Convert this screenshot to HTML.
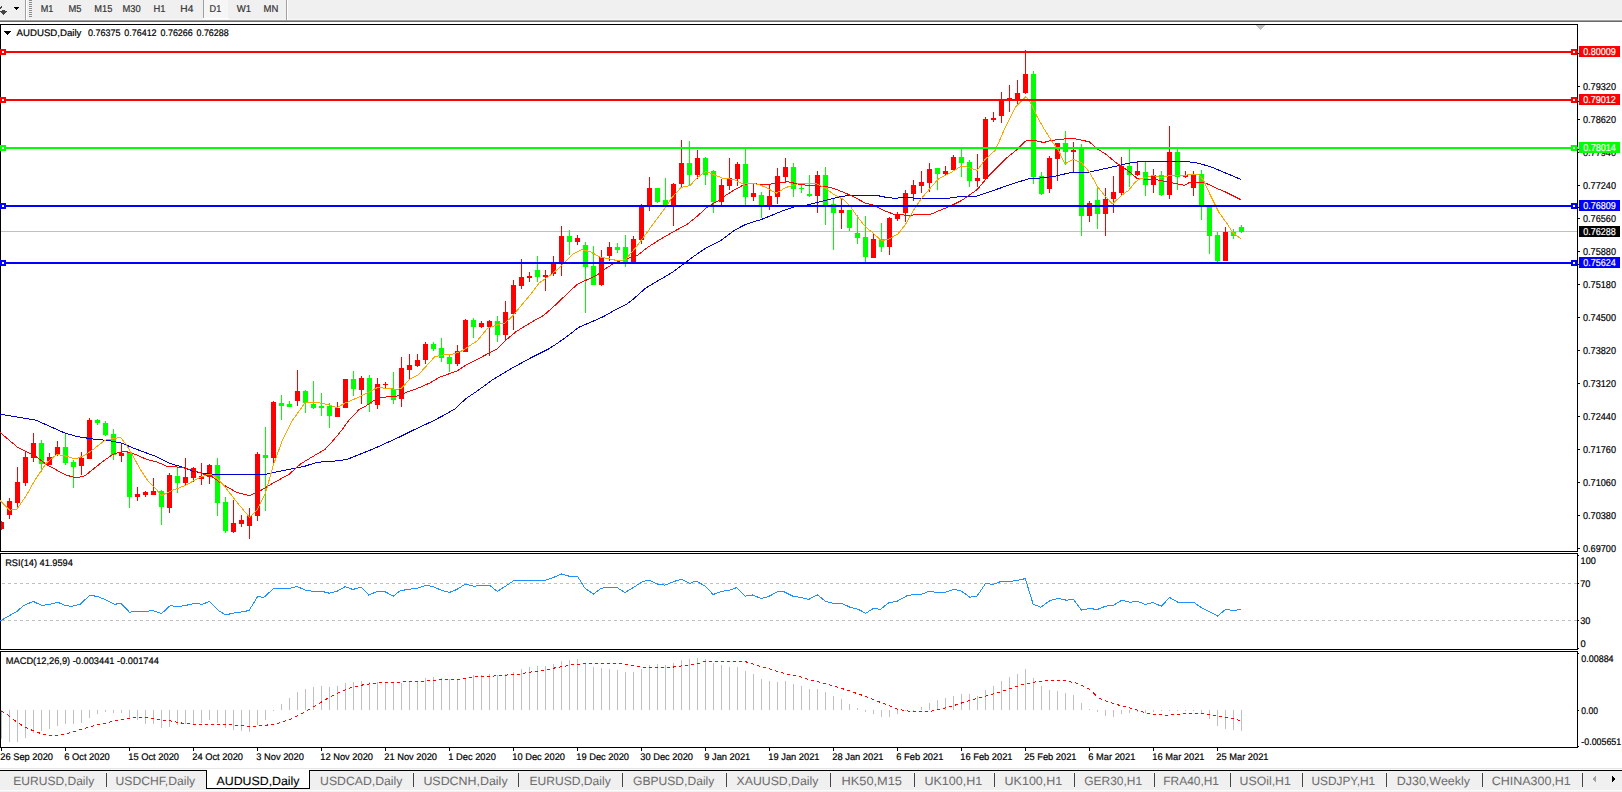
<!DOCTYPE html>
<html><head><meta charset="utf-8"><title>AUDUSD,Daily</title>
<style>
html,body{margin:0;padding:0;background:#fff;overflow:hidden;}
svg{display:block;font-family:"Liberation Sans", sans-serif;text-rendering:geometricPrecision;}
</style></head>
<body>
<svg width="1622" height="792" viewBox="0 0 1622 792">
<rect x="0" y="0" width="1622" height="792" fill="#ffffff"/>
<rect x="0" y="0" width="1622" height="20" fill="#f0f0f0"/>
<rect x="0" y="19" width="1622" height="1" fill="#f7f7f7"/>
<rect x="0" y="20" width="1622" height="1" fill="#a0a0a0"/>
<rect x="0" y="21" width="1622" height="1" fill="#6a6a6a"/>
<rect x="0" y="22" width="1622" height="2" fill="#ffffff"/>
<rect x="1" y="6" width="1" height="1" fill="#454545"/>
<rect x="0" y="7" width="2" height="1" fill="#454545"/>
<rect x="0" y="8" width="1" height="1" fill="#454545"/>
<rect x="2" y="10" width="3" height="1" fill="#454545"/>
<rect x="0" y="11" width="7" height="1" fill="#454545"/>
<rect x="1" y="12" width="5" height="1" fill="#454545"/>
<rect x="2" y="13" width="3" height="1" fill="#454545"/>
<rect x="3" y="14" width="1" height="1" fill="#454545"/>
<rect x="14" y="7" width="5" height="1" fill="#000"/>
<rect x="15" y="8" width="3" height="1" fill="#000"/>
<rect x="16" y="9" width="1" height="1" fill="#000"/>
<rect x="25" y="0" width="1" height="20" fill="#a0a0a0"/>
<rect x="26" y="0" width="1" height="20" fill="#ffffff"/>
<rect x="29" y="0" width="3" height="1" fill="#8c8c8c"/>
<rect x="29" y="2" width="3" height="1" fill="#8c8c8c"/>
<rect x="29" y="4" width="3" height="1" fill="#8c8c8c"/>
<rect x="29" y="6" width="3" height="1" fill="#8c8c8c"/>
<rect x="29" y="8" width="3" height="1" fill="#8c8c8c"/>
<rect x="29" y="10" width="3" height="1" fill="#8c8c8c"/>
<rect x="29" y="12" width="3" height="1" fill="#8c8c8c"/>
<rect x="29" y="14" width="3" height="1" fill="#8c8c8c"/>
<rect x="29" y="16" width="3" height="1" fill="#8c8c8c"/>
<rect x="204" y="0" width="24" height="18" fill="#f6f6f6"/>
<rect x="203" y="0" width="1" height="18" fill="#a0a0a0"/>
<rect x="203" y="18" width="26" height="1" fill="#ffffff"/>
<rect x="286" y="0" width="1" height="20" fill="#a0a0a0"/>
<rect x="287" y="0" width="1" height="20" fill="#ffffff"/>
<text x="40.7" y="12" font-size="10" fill="#333333" stroke="#333333" stroke-width="0.2" textLength="12.6" lengthAdjust="spacingAndGlyphs">M1</text>
<text x="68.4" y="12" font-size="10" fill="#333333" stroke="#333333" stroke-width="0.2" textLength="13" lengthAdjust="spacingAndGlyphs">M5</text>
<text x="94.3" y="12" font-size="10" fill="#333333" stroke="#333333" stroke-width="0.2" textLength="18" lengthAdjust="spacingAndGlyphs">M15</text>
<text x="122.4" y="12" font-size="10" fill="#333333" stroke="#333333" stroke-width="0.2" textLength="18.2" lengthAdjust="spacingAndGlyphs">M30</text>
<text x="153.5" y="12" font-size="10" fill="#333333" stroke="#333333" stroke-width="0.2" textLength="12" lengthAdjust="spacingAndGlyphs">H1</text>
<text x="180.3" y="12" font-size="10" fill="#333333" stroke="#333333" stroke-width="0.2" textLength="13" lengthAdjust="spacingAndGlyphs">H4</text>
<text x="209.6" y="12" font-size="10" fill="#333333" stroke="#333333" stroke-width="0.2" textLength="11.6" lengthAdjust="spacingAndGlyphs">D1</text>
<text x="236.7" y="12" font-size="10" fill="#333333" stroke="#333333" stroke-width="0.2" textLength="14.3" lengthAdjust="spacingAndGlyphs">W1</text>
<text x="263.5" y="12" font-size="10" fill="#333333" stroke="#333333" stroke-width="0.2" textLength="14.8" lengthAdjust="spacingAndGlyphs">MN</text>
<rect x="0" y="24" width="1578" height="1" fill="#000"/>
<rect x="0" y="24" width="1" height="528" fill="#000"/>
<rect x="1577" y="24" width="1" height="528" fill="#000"/>
<rect x="0" y="551" width="1578" height="1" fill="#000"/>
<rect x="0" y="553" width="1578" height="1" fill="#000"/>
<rect x="0" y="553" width="1" height="97" fill="#000"/>
<rect x="1577" y="553" width="1" height="97" fill="#000"/>
<rect x="0" y="649" width="1578" height="1" fill="#000"/>
<rect x="0" y="651" width="1578" height="1" fill="#000"/>
<rect x="0" y="651" width="1" height="97" fill="#000"/>
<rect x="1577" y="651" width="1" height="97" fill="#000"/>
<rect x="0" y="747" width="1578" height="1" fill="#000"/>
<rect x="1256" y="25" width="9" height="1" fill="#c0c0c0"/>
<rect x="1257" y="26" width="7" height="1" fill="#c0c0c0"/>
<rect x="1258" y="27" width="5" height="1" fill="#c0c0c0"/>
<rect x="1259" y="28" width="3" height="1" fill="#c0c0c0"/>
<rect x="1260" y="29" width="1" height="1" fill="#c0c0c0"/>
<text x="4" y="35" font-size="10" fill="#000" stroke="#000" stroke-width="0.2"></text>
<rect x="4" y="31" width="7" height="1" fill="#000"/>
<rect x="5" y="32" width="5" height="1" fill="#000"/>
<rect x="6" y="33" width="3" height="1" fill="#000"/>
<rect x="7" y="34" width="1" height="1" fill="#000"/>
<text x="16.6" y="35.8" font-size="9.5" fill="#000" stroke="#000" stroke-width="0.2" textLength="64.8" lengthAdjust="spacingAndGlyphs">AUDUSD,Daily</text>
<text x="88" y="35.8" font-size="9.5" fill="#000" stroke="#000" stroke-width="0.2" textLength="32.6" lengthAdjust="spacingAndGlyphs">0.76375</text>
<text x="124.3" y="35.8" font-size="9.5" fill="#000" stroke="#000" stroke-width="0.2" textLength="32.3" lengthAdjust="spacingAndGlyphs">0.76412</text>
<text x="160.5" y="35.8" font-size="9.5" fill="#000" stroke="#000" stroke-width="0.2" textLength="32.2" lengthAdjust="spacingAndGlyphs">0.76266</text>
<text x="196.5" y="35.8" font-size="9.5" fill="#000" stroke="#000" stroke-width="0.2" textLength="32.1" lengthAdjust="spacingAndGlyphs">0.76288</text>
<g shape-rendering="crispEdges">
<rect x="1" y="231" width="1576" height="1" fill="#c0c0c0"/>
</g>
<g shape-rendering="crispEdges">
<rect x="1" y="521" width="1" height="9" fill="#ff0000"/>
<rect x="1" y="522" width="3" height="7" fill="#ff0000"/>
<rect x="9" y="498" width="1" height="21" fill="#ff0000"/>
<rect x="7" y="501" width="5" height="14" fill="#ff0000"/>
<rect x="17" y="467" width="1" height="40" fill="#ff0000"/>
<rect x="15" y="482" width="5" height="21" fill="#ff0000"/>
<rect x="25" y="451" width="1" height="35" fill="#ff0000"/>
<rect x="23" y="457" width="5" height="26" fill="#ff0000"/>
<rect x="33" y="433" width="1" height="29" fill="#ff0000"/>
<rect x="31" y="443" width="5" height="15" fill="#ff0000"/>
<rect x="41" y="440" width="1" height="32" fill="#00ff00"/>
<rect x="39" y="443" width="5" height="21" fill="#00ff00"/>
<rect x="49" y="453" width="1" height="12" fill="#ff0000"/>
<rect x="47" y="457" width="5" height="8" fill="#ff0000"/>
<rect x="57" y="441" width="1" height="15" fill="#ff0000"/>
<rect x="55" y="447" width="5" height="8" fill="#ff0000"/>
<rect x="65" y="433" width="1" height="32" fill="#00ff00"/>
<rect x="63" y="447" width="5" height="16" fill="#00ff00"/>
<rect x="73" y="460" width="1" height="28" fill="#00ff00"/>
<rect x="71" y="462" width="5" height="5" fill="#00ff00"/>
<rect x="81" y="452" width="1" height="23" fill="#ff0000"/>
<rect x="79" y="458" width="5" height="8" fill="#ff0000"/>
<rect x="89" y="418" width="1" height="41" fill="#ff0000"/>
<rect x="87" y="420" width="5" height="39" fill="#ff0000"/>
<rect x="97" y="419" width="1" height="6" fill="#00ff00"/>
<rect x="95" y="420" width="5" height="3" fill="#00ff00"/>
<rect x="105" y="421" width="1" height="15" fill="#00ff00"/>
<rect x="103" y="423" width="5" height="12" fill="#00ff00"/>
<rect x="113" y="429" width="1" height="31" fill="#00ff00"/>
<rect x="111" y="434" width="5" height="21" fill="#00ff00"/>
<rect x="121" y="443" width="1" height="19" fill="#ff0000"/>
<rect x="119" y="453" width="5" height="3" fill="#ff0000"/>
<rect x="129" y="452" width="1" height="56" fill="#00ff00"/>
<rect x="127" y="452" width="5" height="45" fill="#00ff00"/>
<rect x="137" y="487" width="1" height="14" fill="#ff0000"/>
<rect x="135" y="494" width="5" height="3" fill="#ff0000"/>
<rect x="145" y="491" width="1" height="6" fill="#ff0000"/>
<rect x="143" y="492" width="5" height="3" fill="#ff0000"/>
<rect x="153" y="478" width="1" height="17" fill="#ff0000"/>
<rect x="151" y="491" width="5" height="4" fill="#ff0000"/>
<rect x="161" y="490" width="1" height="35" fill="#00ff00"/>
<rect x="159" y="491" width="5" height="16" fill="#00ff00"/>
<rect x="169" y="473" width="1" height="40" fill="#ff0000"/>
<rect x="167" y="475" width="5" height="33" fill="#ff0000"/>
<rect x="177" y="467" width="1" height="26" fill="#00ff00"/>
<rect x="175" y="476" width="5" height="7" fill="#00ff00"/>
<rect x="185" y="458" width="1" height="28" fill="#ff0000"/>
<rect x="183" y="477" width="5" height="6" fill="#ff0000"/>
<rect x="193" y="467" width="1" height="15" fill="#ff0000"/>
<rect x="191" y="468" width="5" height="10" fill="#ff0000"/>
<rect x="201" y="463" width="1" height="22" fill="#ff0000"/>
<rect x="199" y="476" width="5" height="3" fill="#ff0000"/>
<rect x="209" y="464" width="1" height="20" fill="#ff0000"/>
<rect x="207" y="465" width="5" height="12" fill="#ff0000"/>
<rect x="217" y="458" width="1" height="58" fill="#00ff00"/>
<rect x="215" y="465" width="5" height="38" fill="#00ff00"/>
<rect x="225" y="497" width="1" height="36" fill="#00ff00"/>
<rect x="223" y="502" width="5" height="29" fill="#00ff00"/>
<rect x="233" y="500" width="1" height="33" fill="#ff0000"/>
<rect x="231" y="523" width="5" height="9" fill="#ff0000"/>
<rect x="241" y="515" width="1" height="12" fill="#ff0000"/>
<rect x="239" y="520" width="5" height="4" fill="#ff0000"/>
<rect x="249" y="508" width="1" height="31" fill="#ff0000"/>
<rect x="247" y="516" width="5" height="10" fill="#ff0000"/>
<rect x="257" y="452" width="1" height="69" fill="#ff0000"/>
<rect x="255" y="454" width="5" height="62" fill="#ff0000"/>
<rect x="265" y="427" width="1" height="84" fill="#00ff00"/>
<rect x="263" y="455" width="5" height="3" fill="#00ff00"/>
<rect x="273" y="401" width="1" height="64" fill="#ff0000"/>
<rect x="271" y="402" width="5" height="56" fill="#ff0000"/>
<rect x="281" y="395" width="1" height="25" fill="#00ff00"/>
<rect x="279" y="403" width="5" height="3" fill="#00ff00"/>
<rect x="289" y="401" width="1" height="6" fill="#00ff00"/>
<rect x="287" y="404" width="5" height="3" fill="#00ff00"/>
<rect x="297" y="370" width="1" height="36" fill="#ff0000"/>
<rect x="295" y="391" width="5" height="10" fill="#ff0000"/>
<rect x="305" y="390" width="1" height="23" fill="#00ff00"/>
<rect x="303" y="391" width="5" height="12" fill="#00ff00"/>
<rect x="313" y="381" width="1" height="28" fill="#00ff00"/>
<rect x="311" y="404" width="5" height="4" fill="#00ff00"/>
<rect x="321" y="393" width="1" height="23" fill="#00ff00"/>
<rect x="319" y="406" width="5" height="2" fill="#00ff00"/>
<rect x="329" y="403" width="1" height="25" fill="#00ff00"/>
<rect x="327" y="406" width="5" height="10" fill="#00ff00"/>
<rect x="337" y="402" width="1" height="15" fill="#ff0000"/>
<rect x="335" y="408" width="5" height="9" fill="#ff0000"/>
<rect x="345" y="379" width="1" height="29" fill="#ff0000"/>
<rect x="343" y="379" width="5" height="29" fill="#ff0000"/>
<rect x="353" y="371" width="1" height="25" fill="#00ff00"/>
<rect x="351" y="379" width="5" height="10" fill="#00ff00"/>
<rect x="361" y="376" width="1" height="28" fill="#ff0000"/>
<rect x="359" y="378" width="5" height="12" fill="#ff0000"/>
<rect x="369" y="375" width="1" height="37" fill="#00ff00"/>
<rect x="367" y="378" width="5" height="26" fill="#00ff00"/>
<rect x="377" y="378" width="1" height="31" fill="#ff0000"/>
<rect x="375" y="384" width="5" height="21" fill="#ff0000"/>
<rect x="385" y="382" width="1" height="6" fill="#ff0000"/>
<rect x="383" y="384" width="5" height="1" fill="#ff0000"/>
<rect x="393" y="372" width="1" height="32" fill="#00ff00"/>
<rect x="391" y="389" width="5" height="11" fill="#00ff00"/>
<rect x="401" y="357" width="1" height="50" fill="#ff0000"/>
<rect x="399" y="368" width="5" height="31" fill="#ff0000"/>
<rect x="409" y="354" width="1" height="25" fill="#ff0000"/>
<rect x="407" y="365" width="5" height="5" fill="#ff0000"/>
<rect x="417" y="354" width="1" height="13" fill="#ff0000"/>
<rect x="415" y="360" width="5" height="6" fill="#ff0000"/>
<rect x="425" y="342" width="1" height="22" fill="#ff0000"/>
<rect x="423" y="344" width="5" height="16" fill="#ff0000"/>
<rect x="433" y="342" width="1" height="9" fill="#00ff00"/>
<rect x="431" y="344" width="5" height="5" fill="#00ff00"/>
<rect x="441" y="338" width="1" height="24" fill="#00ff00"/>
<rect x="439" y="348" width="5" height="10" fill="#00ff00"/>
<rect x="449" y="355" width="1" height="17" fill="#00ff00"/>
<rect x="447" y="357" width="5" height="7" fill="#00ff00"/>
<rect x="457" y="345" width="1" height="21" fill="#ff0000"/>
<rect x="455" y="351" width="5" height="13" fill="#ff0000"/>
<rect x="465" y="319" width="1" height="33" fill="#ff0000"/>
<rect x="463" y="320" width="5" height="32" fill="#ff0000"/>
<rect x="473" y="318" width="1" height="20" fill="#00ff00"/>
<rect x="471" y="320" width="5" height="7" fill="#00ff00"/>
<rect x="481" y="321" width="1" height="7" fill="#ff0000"/>
<rect x="479" y="323" width="5" height="4" fill="#ff0000"/>
<rect x="489" y="320" width="1" height="36" fill="#ff0000"/>
<rect x="487" y="321" width="5" height="6" fill="#ff0000"/>
<rect x="497" y="316" width="1" height="26" fill="#00ff00"/>
<rect x="495" y="321" width="5" height="14" fill="#00ff00"/>
<rect x="505" y="301" width="1" height="40" fill="#ff0000"/>
<rect x="503" y="312" width="5" height="23" fill="#ff0000"/>
<rect x="513" y="280" width="1" height="50" fill="#ff0000"/>
<rect x="511" y="285" width="5" height="29" fill="#ff0000"/>
<rect x="521" y="259" width="1" height="30" fill="#ff0000"/>
<rect x="519" y="277" width="5" height="9" fill="#ff0000"/>
<rect x="529" y="272" width="1" height="10" fill="#ff0000"/>
<rect x="527" y="276" width="5" height="2" fill="#ff0000"/>
<rect x="537" y="256" width="1" height="26" fill="#00ff00"/>
<rect x="535" y="270" width="5" height="7" fill="#00ff00"/>
<rect x="545" y="270" width="1" height="21" fill="#ff0000"/>
<rect x="543" y="275" width="5" height="2" fill="#ff0000"/>
<rect x="553" y="256" width="1" height="20" fill="#ff0000"/>
<rect x="551" y="264" width="5" height="10" fill="#ff0000"/>
<rect x="561" y="226" width="1" height="50" fill="#ff0000"/>
<rect x="559" y="236" width="5" height="27" fill="#ff0000"/>
<rect x="569" y="230" width="1" height="25" fill="#00ff00"/>
<rect x="567" y="236" width="5" height="6" fill="#00ff00"/>
<rect x="577" y="235" width="1" height="10" fill="#ff0000"/>
<rect x="575" y="238" width="5" height="4" fill="#ff0000"/>
<rect x="585" y="242" width="1" height="71" fill="#00ff00"/>
<rect x="583" y="245" width="5" height="22" fill="#00ff00"/>
<rect x="593" y="246" width="1" height="39" fill="#00ff00"/>
<rect x="591" y="266" width="5" height="19" fill="#00ff00"/>
<rect x="601" y="250" width="1" height="36" fill="#ff0000"/>
<rect x="599" y="257" width="5" height="28" fill="#ff0000"/>
<rect x="609" y="242" width="1" height="19" fill="#ff0000"/>
<rect x="607" y="247" width="5" height="9" fill="#ff0000"/>
<rect x="617" y="243" width="1" height="10" fill="#00ff00"/>
<rect x="615" y="247" width="5" height="3" fill="#00ff00"/>
<rect x="625" y="235" width="1" height="32" fill="#00ff00"/>
<rect x="623" y="247" width="5" height="15" fill="#00ff00"/>
<rect x="633" y="236" width="1" height="26" fill="#ff0000"/>
<rect x="631" y="239" width="5" height="23" fill="#ff0000"/>
<rect x="641" y="204" width="1" height="40" fill="#ff0000"/>
<rect x="639" y="206" width="5" height="34" fill="#ff0000"/>
<rect x="649" y="177" width="1" height="34" fill="#ff0000"/>
<rect x="647" y="188" width="5" height="18" fill="#ff0000"/>
<rect x="657" y="188" width="1" height="15" fill="#00ff00"/>
<rect x="655" y="188" width="5" height="14" fill="#00ff00"/>
<rect x="665" y="178" width="1" height="30" fill="#00ff00"/>
<rect x="663" y="200" width="5" height="6" fill="#00ff00"/>
<rect x="673" y="183" width="1" height="43" fill="#ff0000"/>
<rect x="671" y="184" width="5" height="21" fill="#ff0000"/>
<rect x="681" y="140" width="1" height="47" fill="#ff0000"/>
<rect x="679" y="163" width="5" height="21" fill="#ff0000"/>
<rect x="689" y="141" width="1" height="44" fill="#00ff00"/>
<rect x="687" y="163" width="5" height="12" fill="#00ff00"/>
<rect x="697" y="150" width="1" height="29" fill="#ff0000"/>
<rect x="695" y="158" width="5" height="17" fill="#ff0000"/>
<rect x="705" y="157" width="1" height="28" fill="#00ff00"/>
<rect x="703" y="158" width="5" height="17" fill="#00ff00"/>
<rect x="713" y="170" width="1" height="43" fill="#00ff00"/>
<rect x="711" y="171" width="5" height="31" fill="#00ff00"/>
<rect x="721" y="179" width="1" height="26" fill="#ff0000"/>
<rect x="719" y="185" width="5" height="17" fill="#ff0000"/>
<rect x="729" y="158" width="1" height="32" fill="#ff0000"/>
<rect x="727" y="178" width="5" height="8" fill="#ff0000"/>
<rect x="737" y="162" width="1" height="24" fill="#ff0000"/>
<rect x="735" y="164" width="5" height="15" fill="#ff0000"/>
<rect x="745" y="149" width="1" height="56" fill="#00ff00"/>
<rect x="743" y="164" width="5" height="33" fill="#00ff00"/>
<rect x="753" y="183" width="1" height="18" fill="#ff0000"/>
<rect x="751" y="193" width="5" height="4" fill="#ff0000"/>
<rect x="761" y="192" width="1" height="26" fill="#00ff00"/>
<rect x="759" y="195" width="5" height="10" fill="#00ff00"/>
<rect x="769" y="184" width="1" height="26" fill="#ff0000"/>
<rect x="767" y="196" width="5" height="9" fill="#ff0000"/>
<rect x="777" y="168" width="1" height="36" fill="#ff0000"/>
<rect x="775" y="176" width="5" height="21" fill="#ff0000"/>
<rect x="785" y="158" width="1" height="24" fill="#ff0000"/>
<rect x="783" y="167" width="5" height="10" fill="#ff0000"/>
<rect x="793" y="163" width="1" height="34" fill="#00ff00"/>
<rect x="791" y="167" width="5" height="22" fill="#00ff00"/>
<rect x="801" y="184" width="1" height="9" fill="#00ff00"/>
<rect x="799" y="188" width="5" height="1" fill="#00ff00"/>
<rect x="809" y="175" width="1" height="22" fill="#00ff00"/>
<rect x="807" y="194" width="5" height="2" fill="#00ff00"/>
<rect x="817" y="171" width="1" height="42" fill="#ff0000"/>
<rect x="815" y="175" width="5" height="21" fill="#ff0000"/>
<rect x="825" y="167" width="1" height="58" fill="#00ff00"/>
<rect x="823" y="175" width="5" height="30" fill="#00ff00"/>
<rect x="833" y="198" width="1" height="52" fill="#00ff00"/>
<rect x="831" y="204" width="5" height="9" fill="#00ff00"/>
<rect x="841" y="198" width="1" height="31" fill="#ff0000"/>
<rect x="839" y="210" width="5" height="3" fill="#ff0000"/>
<rect x="849" y="210" width="1" height="21" fill="#00ff00"/>
<rect x="847" y="210" width="5" height="18" fill="#00ff00"/>
<rect x="857" y="215" width="1" height="29" fill="#00ff00"/>
<rect x="855" y="233" width="5" height="5" fill="#00ff00"/>
<rect x="865" y="216" width="1" height="46" fill="#00ff00"/>
<rect x="863" y="237" width="5" height="20" fill="#00ff00"/>
<rect x="873" y="234" width="1" height="24" fill="#ff0000"/>
<rect x="871" y="239" width="5" height="19" fill="#ff0000"/>
<rect x="881" y="223" width="1" height="29" fill="#00ff00"/>
<rect x="879" y="239" width="5" height="8" fill="#00ff00"/>
<rect x="889" y="217" width="1" height="38" fill="#ff0000"/>
<rect x="887" y="218" width="5" height="29" fill="#ff0000"/>
<rect x="897" y="212" width="1" height="9" fill="#ff0000"/>
<rect x="895" y="214" width="5" height="5" fill="#ff0000"/>
<rect x="905" y="190" width="1" height="32" fill="#ff0000"/>
<rect x="903" y="193" width="5" height="20" fill="#ff0000"/>
<rect x="913" y="180" width="1" height="21" fill="#ff0000"/>
<rect x="911" y="185" width="5" height="9" fill="#ff0000"/>
<rect x="921" y="171" width="1" height="22" fill="#ff0000"/>
<rect x="919" y="182" width="5" height="4" fill="#ff0000"/>
<rect x="929" y="163" width="1" height="29" fill="#ff0000"/>
<rect x="927" y="169" width="5" height="14" fill="#ff0000"/>
<rect x="937" y="168" width="1" height="22" fill="#00ff00"/>
<rect x="935" y="168" width="5" height="6" fill="#00ff00"/>
<rect x="945" y="166" width="1" height="9" fill="#ff0000"/>
<rect x="943" y="171" width="5" height="3" fill="#ff0000"/>
<rect x="953" y="155" width="1" height="15" fill="#ff0000"/>
<rect x="951" y="157" width="5" height="13" fill="#ff0000"/>
<rect x="961" y="149" width="1" height="28" fill="#00ff00"/>
<rect x="959" y="157" width="5" height="6" fill="#00ff00"/>
<rect x="969" y="160" width="1" height="27" fill="#00ff00"/>
<rect x="967" y="162" width="5" height="19" fill="#00ff00"/>
<rect x="977" y="154" width="1" height="33" fill="#ff0000"/>
<rect x="975" y="178" width="5" height="3" fill="#ff0000"/>
<rect x="985" y="117" width="1" height="62" fill="#ff0000"/>
<rect x="983" y="119" width="5" height="60" fill="#ff0000"/>
<rect x="993" y="112" width="1" height="10" fill="#ff0000"/>
<rect x="991" y="118" width="5" height="2" fill="#ff0000"/>
<rect x="1001" y="92" width="1" height="31" fill="#ff0000"/>
<rect x="999" y="101" width="5" height="15" fill="#ff0000"/>
<rect x="1009" y="85" width="1" height="27" fill="#ff0000"/>
<rect x="1007" y="98" width="5" height="2" fill="#ff0000"/>
<rect x="1017" y="80" width="1" height="25" fill="#ff0000"/>
<rect x="1015" y="93" width="5" height="7" fill="#ff0000"/>
<rect x="1025" y="50" width="1" height="44" fill="#ff0000"/>
<rect x="1023" y="74" width="5" height="19" fill="#ff0000"/>
<rect x="1033" y="71" width="1" height="113" fill="#00ff00"/>
<rect x="1031" y="74" width="5" height="103" fill="#00ff00"/>
<rect x="1041" y="172" width="1" height="23" fill="#00ff00"/>
<rect x="1039" y="176" width="5" height="18" fill="#00ff00"/>
<rect x="1049" y="156" width="1" height="37" fill="#ff0000"/>
<rect x="1047" y="158" width="5" height="31" fill="#ff0000"/>
<rect x="1057" y="143" width="1" height="38" fill="#ff0000"/>
<rect x="1055" y="143" width="5" height="16" fill="#ff0000"/>
<rect x="1065" y="131" width="1" height="34" fill="#00ff00"/>
<rect x="1063" y="143" width="5" height="9" fill="#00ff00"/>
<rect x="1073" y="142" width="1" height="30" fill="#ff0000"/>
<rect x="1071" y="150" width="5" height="2" fill="#ff0000"/>
<rect x="1081" y="144" width="1" height="92" fill="#00ff00"/>
<rect x="1079" y="148" width="5" height="68" fill="#00ff00"/>
<rect x="1089" y="201" width="1" height="21" fill="#ff0000"/>
<rect x="1087" y="203" width="5" height="13" fill="#ff0000"/>
<rect x="1097" y="187" width="1" height="42" fill="#00ff00"/>
<rect x="1095" y="200" width="5" height="14" fill="#00ff00"/>
<rect x="1105" y="188" width="1" height="48" fill="#ff0000"/>
<rect x="1103" y="199" width="5" height="15" fill="#ff0000"/>
<rect x="1113" y="176" width="1" height="37" fill="#ff0000"/>
<rect x="1111" y="192" width="5" height="7" fill="#ff0000"/>
<rect x="1121" y="157" width="1" height="38" fill="#ff0000"/>
<rect x="1119" y="166" width="5" height="27" fill="#ff0000"/>
<rect x="1129" y="149" width="1" height="38" fill="#00ff00"/>
<rect x="1127" y="166" width="5" height="9" fill="#00ff00"/>
<rect x="1137" y="161" width="1" height="15" fill="#ff0000"/>
<rect x="1135" y="171" width="5" height="4" fill="#ff0000"/>
<rect x="1145" y="162" width="1" height="34" fill="#00ff00"/>
<rect x="1143" y="172" width="5" height="13" fill="#00ff00"/>
<rect x="1153" y="169" width="1" height="24" fill="#ff0000"/>
<rect x="1151" y="175" width="5" height="10" fill="#ff0000"/>
<rect x="1161" y="171" width="1" height="25" fill="#00ff00"/>
<rect x="1159" y="175" width="5" height="20" fill="#00ff00"/>
<rect x="1169" y="126" width="1" height="73" fill="#ff0000"/>
<rect x="1167" y="152" width="5" height="43" fill="#ff0000"/>
<rect x="1177" y="149" width="1" height="41" fill="#00ff00"/>
<rect x="1175" y="152" width="5" height="25" fill="#00ff00"/>
<rect x="1185" y="171" width="1" height="7" fill="#ff0000"/>
<rect x="1183" y="175" width="5" height="2" fill="#ff0000"/>
<rect x="1193" y="171" width="1" height="25" fill="#ff0000"/>
<rect x="1191" y="175" width="5" height="13" fill="#ff0000"/>
<rect x="1201" y="170" width="1" height="50" fill="#00ff00"/>
<rect x="1199" y="174" width="5" height="31" fill="#00ff00"/>
<rect x="1209" y="206" width="1" height="48" fill="#00ff00"/>
<rect x="1207" y="206" width="5" height="30" fill="#00ff00"/>
<rect x="1217" y="232" width="1" height="30" fill="#00ff00"/>
<rect x="1215" y="235" width="5" height="26" fill="#00ff00"/>
<rect x="1225" y="227" width="1" height="34" fill="#ff0000"/>
<rect x="1223" y="232" width="5" height="29" fill="#ff0000"/>
<rect x="1233" y="229" width="1" height="10" fill="#00ff00"/>
<rect x="1231" y="232" width="5" height="4" fill="#00ff00"/>
<rect x="1241" y="225" width="1" height="8" fill="#00ff00"/>
<rect x="1239" y="227" width="5" height="5" fill="#00ff00"/>
</g>
<g shape-rendering="crispEdges" stroke-linejoin="round">
<polyline points="0.0,414.2 35.4,420.0 65.4,433.3 77.0,436.5 93.4,439.1 109.9,440.7 121.4,443.0 134.5,448.5 157.0,456.9 169.6,463.4 180.7,466.5 193.3,471.3 204.3,473.6 215.4,474.4 237.0,474.4 264.3,474.5 282.5,470.7 305.2,466.1 317.0,462.3 333.4,461.2 346.6,459.6 358.0,455.0 374.5,448.4 397.0,438.2 413.4,430.1 429.9,422.4 443.0,415.8 454.5,409.2 466.0,398.6 477.0,391.2 492.9,379.5 512.3,368.0 530.0,358.3 547.6,349.5 557.0,343.6 566.9,336.6 578.4,327.5 589.9,322.6 603.0,316.8 614.5,310.3 626.0,304.5 632.6,299.7 645.3,288.4 657.9,280.8 673.0,272.0 683.1,264.4 693.2,256.8 705.9,248.0 721.0,240.4 733.6,230.9 743.7,225.3 752.6,222.1 760.0,220.0 769.6,216.2 779.4,212.1 789.3,208.5 797.0,205.9 806.9,205.0 816.7,202.6 826.6,200.1 836.4,197.6 846.3,195.7 877.0,195.5 886.9,197.5 895.1,198.3 903.3,197.5 918.1,198.3 934.5,198.3 947.6,198.3 957.0,197.0 977.2,196.0 993.4,190.5 1007.5,185.5 1021.6,181.0 1029.7,178.4 1037.0,178.3 1053.4,176.5 1073.1,172.1 1089.6,172.1 1102.7,169.1 1117.0,166.0 1126.9,163.4 1141.6,161.3 1158.1,161.3 1174.5,161.3 1187.6,161.7 1197.0,162.9 1205.2,165.2 1214.2,168.2 1224.8,172.7 1232.4,175.8 1240.8,179.5" fill="none" stroke="#0000cd" stroke-width="1"/>
<polyline points="0.0,432.4 17.7,447.4 35.4,456.3 46.0,464.2 65.4,474.9 77.0,478.0 85.2,475.6 101.6,462.4 113.1,454.2 123.0,451.3 131.2,452.6 146.0,459.1 157.0,462.0 166.5,466.1 180.7,467.3 193.3,470.2 204.3,474.4 212.2,476.8 223.3,484.7 237.0,492.5 249.5,495.7 259.7,491.1 271.0,484.3 289.3,474.1 300.6,463.9 317.0,454.0 325.2,449.2 333.4,440.2 341.6,430.4 349.9,418.9 359.7,409.0 366.3,405.7 376.1,399.1 381.0,397.5 397.0,396.0 405.2,392.8 416.7,388.7 429.9,383.0 439.7,377.2 449.6,373.6 457.8,370.6 466.0,364.9 477.0,359.6 485.8,354.8 496.4,349.5 505.3,340.7 515.9,331.8 530.0,323.0 544.1,315.1 557.0,303.6 566.9,293.9 576.7,284.8 584.9,280.7 596.4,275.5 604.6,269.2 614.5,263.0 626.0,259.0 637.0,255.7 647.6,247.4 660.0,239.5 672.3,232.4 688.2,223.6 698.8,214.8 707.6,206.8 717.0,201.5 725.2,195.7 733.4,190.5 743.3,185.0 749.9,183.4 759.7,184.2 769.6,184.2 779.4,182.9 787.6,181.7 797.0,183.8 806.9,185.3 816.7,185.8 826.6,186.5 836.4,189.4 846.3,193.5 854.5,197.3 866.0,203.4 872.6,204.7 877.0,207.0 885.2,211.0 895.1,214.7 909.9,215.2 918.1,214.7 929.6,214.7 939.4,210.6 949.3,206.5 957.0,202.8 963.1,199.6 977.2,189.5 987.3,177.4 997.4,167.3 1007.5,157.2 1017.6,149.1 1025.7,141.0 1033.8,140.0 1037.0,141.0 1043.6,142.5 1051.8,140.4 1061.6,139.2 1071.5,138.3 1079.7,139.6 1089.6,142.0 1096.1,148.1 1106.0,154.4 1117.0,163.4 1123.6,167.5 1130.1,172.4 1136.7,178.2 1146.6,179.3 1156.4,179.8 1166.3,181.5 1176.1,183.6 1184.4,185.2 1189.3,182.6 1199.1,182.1 1206.7,183.6 1215.8,187.9 1224.8,191.7 1232.4,195.5 1240.8,199.7" fill="none" stroke="#ff0000" stroke-width="1"/>
<polyline points="0.0,500.5 9.7,510.2 16.8,509.4 26.5,495.2 35.4,479.3 46.0,463.4 56.6,454.5 67.2,456.3 74.3,459.0 77.0,458.3 83.6,455.9 93.4,449.3 104.9,440.2 113.1,438.6 120.5,437.5 126.3,444.4 132.9,455.9 141.0,470.6 147.6,480.5 157.0,490.0 161.0,495.7 172.8,490.2 185.4,485.5 198.0,478.4 207.5,474.4 213.8,475.2 223.3,484.7 237.0,502.3 249.5,517.3 257.5,509.3 265.4,493.4 273.4,465.0 282.5,440.0 291.5,421.8 305.2,402.5 317.0,402.5 326.9,404.4 336.7,407.7 344.9,403.2 358.0,397.5 366.3,393.4 377.8,387.3 386.0,388.5 397.0,389.3 401.1,388.7 410.1,378.8 418.4,374.7 426.6,365.7 434.8,356.7 443.0,355.0 452.9,354.2 462.7,350.6 469.3,346.0 477.0,341.0 487.6,328.3 498.2,324.4 505.3,323.0 514.1,314.2 522.9,303.6 531.7,293.0 538.8,283.3 547.6,277.1 557.0,270.0 566.9,260.2 573.4,253.6 581.6,249.8 589.9,251.5 599.7,256.9 609.6,259.0 619.4,261.0 626.0,259.0 637.0,246.0 645.8,234.2 654.7,221.8 665.3,207.7 672.3,197.1 681.2,187.4 690.0,185.6 697.0,177.7 705.9,171.5 717.0,176.0 723.6,178.5 733.4,179.3 743.3,184.2 749.9,183.4 758.1,184.2 766.3,187.5 776.1,193.2 786.0,187.5 797.0,184.0 806.9,183.7 816.7,183.7 824.9,187.8 833.1,194.0 843.0,199.3 851.2,207.5 857.8,217.4 866.0,227.3 872.6,232.7 881.5,240.7 889.0,239.0 897.9,234.0 905.5,224.5 915.6,206.8 921.9,198.0 929.4,189.1 938.3,179.0 948.4,174.0 960.0,167.0 965.1,166.3 977.2,170.3 985.3,159.2 995.4,150.1 1005.5,126.9 1015.6,106.7 1025.7,96.6 1031.7,104.6 1037.0,116.5 1043.6,128.1 1051.8,141.2 1058.4,150.2 1064.9,163.9 1073.1,159.3 1081.4,162.6 1089.6,172.4 1097.8,187.2 1106.0,197.1 1112.6,204.0 1117.0,199.7 1121.9,195.1 1128.5,190.5 1135.1,182.3 1140.0,178.7 1146.6,177.4 1153.1,175.4 1161.4,177.7 1169.6,175.7 1179.4,175.4 1189.3,174.9 1199.1,175.0 1203.6,180.3 1209.7,193.9 1215.8,206.1 1218.8,212.1 1226.4,222.7 1232.4,231.8 1235.5,234.8 1240.8,238.6" fill="none" stroke="#ffa500" stroke-width="1"/>
</g>
<g shape-rendering="crispEdges">
<rect x="1" y="51" width="1576" height="2" fill="#ff0000"/>
<rect x="0" y="49" width="6" height="6" fill="#ff0000"/>
<rect x="2" y="51" width="2" height="2" fill="#ffffff"/>
<rect x="1571" y="49" width="6" height="6" fill="#ff0000"/>
<rect x="1573" y="51" width="2" height="2" fill="#ffffff"/>
<rect x="1" y="99" width="1576" height="2" fill="#ff0000"/>
<rect x="0" y="97" width="6" height="6" fill="#ff0000"/>
<rect x="2" y="99" width="2" height="2" fill="#ffffff"/>
<rect x="1571" y="97" width="6" height="6" fill="#ff0000"/>
<rect x="1573" y="99" width="2" height="2" fill="#ffffff"/>
<rect x="1" y="147" width="1576" height="2" fill="#00ff00"/>
<rect x="0" y="145" width="6" height="6" fill="#00ff00"/>
<rect x="2" y="147" width="2" height="2" fill="#ffffff"/>
<rect x="1571" y="145" width="6" height="6" fill="#00ff00"/>
<rect x="1573" y="147" width="2" height="2" fill="#ffffff"/>
<rect x="1" y="205" width="1576" height="2" fill="#0000ff"/>
<rect x="0" y="203" width="6" height="6" fill="#0000ff"/>
<rect x="2" y="205" width="2" height="2" fill="#ffffff"/>
<rect x="1571" y="203" width="6" height="6" fill="#0000ff"/>
<rect x="1573" y="205" width="2" height="2" fill="#ffffff"/>
<rect x="1" y="262" width="1576" height="2" fill="#0000ff"/>
<rect x="0" y="260" width="6" height="6" fill="#0000ff"/>
<rect x="2" y="262" width="2" height="2" fill="#ffffff"/>
<rect x="1571" y="260" width="6" height="6" fill="#0000ff"/>
<rect x="1573" y="262" width="2" height="2" fill="#ffffff"/>
</g>
<g shape-rendering="crispEdges">
<rect x="1578" y="86" width="2" height="1" fill="#000"/>
<rect x="1578" y="119" width="2" height="1" fill="#000"/>
<rect x="1578" y="152" width="2" height="1" fill="#000"/>
<rect x="1578" y="185" width="2" height="1" fill="#000"/>
<rect x="1578" y="218" width="2" height="1" fill="#000"/>
<rect x="1578" y="251" width="2" height="1" fill="#000"/>
<rect x="1578" y="284" width="2" height="1" fill="#000"/>
<rect x="1578" y="317" width="2" height="1" fill="#000"/>
<rect x="1578" y="350" width="2" height="1" fill="#000"/>
<rect x="1578" y="383" width="2" height="1" fill="#000"/>
<rect x="1578" y="416" width="2" height="1" fill="#000"/>
<rect x="1578" y="449" width="2" height="1" fill="#000"/>
<rect x="1578" y="482" width="2" height="1" fill="#000"/>
<rect x="1578" y="515" width="2" height="1" fill="#000"/>
<rect x="1578" y="548" width="2" height="1" fill="#000"/>
</g>
<text x="1583" y="90" font-size="10" fill="#000" stroke="#000" stroke-width="0.2" textLength="33" lengthAdjust="spacingAndGlyphs">0.79320</text>
<text x="1583" y="123" font-size="10" fill="#000" stroke="#000" stroke-width="0.2" textLength="33" lengthAdjust="spacingAndGlyphs">0.78620</text>
<text x="1583" y="156" font-size="10" fill="#000" stroke="#000" stroke-width="0.2" textLength="33" lengthAdjust="spacingAndGlyphs">0.77940</text>
<text x="1583" y="189" font-size="10" fill="#000" stroke="#000" stroke-width="0.2" textLength="33" lengthAdjust="spacingAndGlyphs">0.77240</text>
<text x="1583" y="222" font-size="10" fill="#000" stroke="#000" stroke-width="0.2" textLength="33" lengthAdjust="spacingAndGlyphs">0.76560</text>
<text x="1583" y="255" font-size="10" fill="#000" stroke="#000" stroke-width="0.2" textLength="33" lengthAdjust="spacingAndGlyphs">0.75880</text>
<text x="1583" y="288" font-size="10" fill="#000" stroke="#000" stroke-width="0.2" textLength="33" lengthAdjust="spacingAndGlyphs">0.75180</text>
<text x="1583" y="321" font-size="10" fill="#000" stroke="#000" stroke-width="0.2" textLength="33" lengthAdjust="spacingAndGlyphs">0.74500</text>
<text x="1583" y="354" font-size="10" fill="#000" stroke="#000" stroke-width="0.2" textLength="33" lengthAdjust="spacingAndGlyphs">0.73820</text>
<text x="1583" y="387" font-size="10" fill="#000" stroke="#000" stroke-width="0.2" textLength="33" lengthAdjust="spacingAndGlyphs">0.73120</text>
<text x="1583" y="420" font-size="10" fill="#000" stroke="#000" stroke-width="0.2" textLength="33" lengthAdjust="spacingAndGlyphs">0.72440</text>
<text x="1583" y="453" font-size="10" fill="#000" stroke="#000" stroke-width="0.2" textLength="33" lengthAdjust="spacingAndGlyphs">0.71760</text>
<text x="1583" y="486" font-size="10" fill="#000" stroke="#000" stroke-width="0.2" textLength="33" lengthAdjust="spacingAndGlyphs">0.71060</text>
<text x="1583" y="519" font-size="10" fill="#000" stroke="#000" stroke-width="0.2" textLength="33" lengthAdjust="spacingAndGlyphs">0.70380</text>
<text x="1583" y="552" font-size="10" fill="#000" stroke="#000" stroke-width="0.2" textLength="33" lengthAdjust="spacingAndGlyphs">0.69700</text>
<rect x="1579" y="46" width="41" height="11" fill="#ff0000" shape-rendering="crispEdges"/>
<text x="1583.3" y="55" font-size="10" fill="#ffffff" stroke="#ffffff" stroke-width="0.2" textLength="32.6" lengthAdjust="spacingAndGlyphs">0.80009</text>
<rect x="1579" y="94" width="41" height="11" fill="#ff0000" shape-rendering="crispEdges"/>
<text x="1583.3" y="103" font-size="10" fill="#ffffff" stroke="#ffffff" stroke-width="0.2" textLength="32.6" lengthAdjust="spacingAndGlyphs">0.79012</text>
<rect x="1579" y="142" width="41" height="11" fill="#00ff00" shape-rendering="crispEdges"/>
<text x="1583.3" y="151" font-size="10" fill="#ffffff" stroke="#ffffff" stroke-width="0.2" textLength="32.6" lengthAdjust="spacingAndGlyphs">0.78014</text>
<rect x="1579" y="200" width="41" height="11" fill="#0000ff" shape-rendering="crispEdges"/>
<text x="1583.3" y="209" font-size="10" fill="#ffffff" stroke="#ffffff" stroke-width="0.2" textLength="32.6" lengthAdjust="spacingAndGlyphs">0.76809</text>
<rect x="1579" y="257" width="41" height="11" fill="#0000ff" shape-rendering="crispEdges"/>
<text x="1583.3" y="266" font-size="10" fill="#ffffff" stroke="#ffffff" stroke-width="0.2" textLength="32.6" lengthAdjust="spacingAndGlyphs">0.75624</text>
<rect x="1579" y="226" width="41" height="11" fill="#000000" shape-rendering="crispEdges"/>
<text x="1583.3" y="235" font-size="10" fill="#ffffff" stroke="#ffffff" stroke-width="0.2" textLength="32.6" lengthAdjust="spacingAndGlyphs">0.76288</text>
<rect x="1578" y="53" width="1" height="1" fill="#000"/>
<rect x="1577" y="51" width="1" height="2" fill="#ff0000"/>
<rect x="1578" y="101" width="1" height="1" fill="#000"/>
<rect x="1577" y="99" width="1" height="2" fill="#ff0000"/>
<rect x="1578" y="149" width="1" height="1" fill="#000"/>
<rect x="1577" y="147" width="1" height="2" fill="#00ff00"/>
<rect x="1578" y="207" width="1" height="1" fill="#000"/>
<rect x="1577" y="205" width="1" height="2" fill="#0000ff"/>
<rect x="1578" y="264" width="1" height="1" fill="#000"/>
<rect x="1577" y="262" width="1" height="2" fill="#0000ff"/>
<g shape-rendering="crispEdges">
<line x1="2" y1="583.5" x2="1577" y2="583.5" stroke="#c0c0c0" stroke-dasharray="3,3"/>
<line x1="2" y1="620.5" x2="1577" y2="620.5" stroke="#c0c0c0" stroke-dasharray="3,3"/>
<rect x="1578" y="555" width="1" height="1" fill="#000"/>
<rect x="1578" y="583" width="1" height="1" fill="#000"/>
<rect x="1578" y="620" width="1" height="1" fill="#000"/>
<rect x="1578" y="648" width="1" height="1" fill="#000"/>
<polyline points="0.0,621.1 9.9,615.4 17.3,611.2 23.4,605.6 33.3,601.4 41.9,605.6 49.3,604.3 58.0,602.3 65.4,605.6 71.5,606.3 80.1,604.3 90.0,595.0 98.6,596.9 106.0,599.9 114.7,604.3 120.8,603.3 129.5,612.2 136.9,611.2 148.0,611.2 152.9,610.5 161.5,613.7 170.2,605.6 177.6,606.8 185.0,605.6 194.8,603.3 202.2,604.3 209.6,601.4 218.2,610.5 225.6,614.9 233.0,613.2 242.9,611.7 249.1,610.5 257.7,596.4 263.9,597.4 273.7,588.3 289.8,588.3 297.2,586.6 305.8,590.3 313.2,591.3 321.8,591.3 329.2,593.2 336.6,591.5 345.3,586.6 352.7,589.5 361.3,587.1 368.7,595.0 377.3,591.5 384.7,591.5 393.3,596.2 400.0,590.8 407.4,589.5 417.3,588.3 425.9,585.3 433.3,586.6 440.7,590.0 449.3,592.5 456.7,589.5 465.4,584.1 474.0,586.3 481.4,585.1 490.0,585.6 497.4,591.5 506.0,585.8 513.4,580.9 518.4,580.2 545.5,580.2 552.9,577.7 561.5,574.0 570.2,576.5 577.6,576.5 585.0,588.3 593.6,594.0 601.0,588.3 608.4,587.1 617.0,587.6 624.9,592.5 633.0,587.8 642.9,581.4 649.1,580.2 657.7,584.1 665.1,585.1 673.7,581.6 681.1,579.2 689.8,583.4 695.9,580.9 704.6,585.8 713.2,594.5 721.8,591.3 729.2,590.3 736.6,587.6 745.2,596.2 752.6,595.0 761.3,598.6 768.7,596.4 777.3,592.0 783.5,591.5 793.3,596.4 800.0,597.3 808.9,599.4 817.2,594.7 825.5,601.3 833.3,603.3 842.2,603.6 850.0,607.2 858.3,609.4 865.8,613.3 873.5,608.3 880.5,609.4 888.8,602.7 897.1,601.3 906.8,595.8 913.8,594.4 922.1,594.1 929.0,591.3 936.0,592.2 945.7,592.2 954.0,589.4 960.9,590.8 969.8,597.2 977.0,596.1 985.3,583.9 993.7,584.1 1001.2,581.4 1010.9,581.4 1019.2,580.0 1025.3,578.6 1033.1,604.1 1040.8,607.2 1049.7,600.8 1058.0,598.3 1066.4,600.2 1073.3,599.4 1081.6,610.2 1090.0,608.3 1096.9,609.7 1105.2,606.3 1113.5,605.2 1121.9,600.2 1130.2,602.2 1137.1,601.3 1145.4,604.4 1152.9,602.4 1161.3,606.3 1169.6,597.5 1177.9,602.2 1186.2,602.2 1194.0,602.4 1202.3,608.3 1210.1,611.9 1217.6,616.0 1225.9,609.1 1232.8,610.5 1241.2,609.4" fill="none" stroke="#1e90ff" stroke-width="1"/>
</g>
<text x="5.2" y="565.6" font-size="9.5" fill="#000" stroke="#000" stroke-width="0.2" textLength="67.7" lengthAdjust="spacingAndGlyphs">RSI(14) 41.9594</text>
<text x="1580.6" y="564" font-size="9.6" fill="#000" stroke="#000" stroke-width="0.2" textLength="15.2" lengthAdjust="spacingAndGlyphs">100</text>
<text x="1580.2" y="587" font-size="9.6" fill="#000" stroke="#000" stroke-width="0.2" textLength="10.2" lengthAdjust="spacingAndGlyphs">70</text>
<text x="1580.2" y="624" font-size="9.6" fill="#000" stroke="#000" stroke-width="0.2" textLength="10.2" lengthAdjust="spacingAndGlyphs">30</text>
<text x="1580.6" y="646.5" font-size="9.6" fill="#000" stroke="#000" stroke-width="0.2" textLength="5.2" lengthAdjust="spacingAndGlyphs">0</text>
<g shape-rendering="crispEdges">
<rect x="1" y="710" width="1" height="29" fill="#c0c0c0"/>
<rect x="9" y="710" width="1" height="32" fill="#c0c0c0"/>
<rect x="17" y="710" width="1" height="32" fill="#c0c0c0"/>
<rect x="25" y="710" width="1" height="28" fill="#c0c0c0"/>
<rect x="33" y="710" width="1" height="23" fill="#c0c0c0"/>
<rect x="41" y="710" width="1" height="21" fill="#c0c0c0"/>
<rect x="49" y="710" width="1" height="19" fill="#c0c0c0"/>
<rect x="57" y="710" width="1" height="16" fill="#c0c0c0"/>
<rect x="65" y="710" width="1" height="14" fill="#c0c0c0"/>
<rect x="73" y="710" width="1" height="14" fill="#c0c0c0"/>
<rect x="81" y="710" width="1" height="13" fill="#c0c0c0"/>
<rect x="89" y="710" width="1" height="8" fill="#c0c0c0"/>
<rect x="97" y="710" width="1" height="4" fill="#c0c0c0"/>
<rect x="105" y="710" width="1" height="2" fill="#c0c0c0"/>
<rect x="113" y="710" width="1" height="3" fill="#c0c0c0"/>
<rect x="121" y="710" width="1" height="3" fill="#c0c0c0"/>
<rect x="129" y="710" width="1" height="8" fill="#c0c0c0"/>
<rect x="137" y="710" width="1" height="10" fill="#c0c0c0"/>
<rect x="145" y="710" width="1" height="14" fill="#c0c0c0"/>
<rect x="153" y="710" width="1" height="14" fill="#c0c0c0"/>
<rect x="161" y="710" width="1" height="18" fill="#c0c0c0"/>
<rect x="169" y="710" width="1" height="17" fill="#c0c0c0"/>
<rect x="177" y="710" width="1" height="15" fill="#c0c0c0"/>
<rect x="185" y="710" width="1" height="14" fill="#c0c0c0"/>
<rect x="193" y="710" width="1" height="14" fill="#c0c0c0"/>
<rect x="201" y="710" width="1" height="13" fill="#c0c0c0"/>
<rect x="209" y="710" width="1" height="10" fill="#c0c0c0"/>
<rect x="217" y="710" width="1" height="13" fill="#c0c0c0"/>
<rect x="225" y="710" width="1" height="18" fill="#c0c0c0"/>
<rect x="233" y="710" width="1" height="20" fill="#c0c0c0"/>
<rect x="241" y="710" width="1" height="21" fill="#c0c0c0"/>
<rect x="249" y="710" width="1" height="22" fill="#c0c0c0"/>
<rect x="257" y="710" width="1" height="15" fill="#c0c0c0"/>
<rect x="265" y="710" width="1" height="10" fill="#c0c0c0"/>
<rect x="273" y="710" width="1" height="1" fill="#c0c0c0"/>
<rect x="281" y="704" width="1" height="6" fill="#c0c0c0"/>
<rect x="289" y="698" width="1" height="12" fill="#c0c0c0"/>
<rect x="297" y="692" width="1" height="18" fill="#c0c0c0"/>
<rect x="305" y="689" width="1" height="21" fill="#c0c0c0"/>
<rect x="313" y="687" width="1" height="23" fill="#c0c0c0"/>
<rect x="321" y="686" width="1" height="24" fill="#c0c0c0"/>
<rect x="329" y="687" width="1" height="23" fill="#c0c0c0"/>
<rect x="337" y="686" width="1" height="24" fill="#c0c0c0"/>
<rect x="345" y="683" width="1" height="27" fill="#c0c0c0"/>
<rect x="353" y="682" width="1" height="28" fill="#c0c0c0"/>
<rect x="361" y="681" width="1" height="29" fill="#c0c0c0"/>
<rect x="369" y="682" width="1" height="28" fill="#c0c0c0"/>
<rect x="377" y="682" width="1" height="28" fill="#c0c0c0"/>
<rect x="385" y="682" width="1" height="28" fill="#c0c0c0"/>
<rect x="393" y="682" width="1" height="28" fill="#c0c0c0"/>
<rect x="401" y="683" width="1" height="27" fill="#c0c0c0"/>
<rect x="409" y="682" width="1" height="28" fill="#c0c0c0"/>
<rect x="417" y="681" width="1" height="29" fill="#c0c0c0"/>
<rect x="425" y="678" width="1" height="32" fill="#c0c0c0"/>
<rect x="433" y="677" width="1" height="33" fill="#c0c0c0"/>
<rect x="441" y="678" width="1" height="32" fill="#c0c0c0"/>
<rect x="449" y="679" width="1" height="31" fill="#c0c0c0"/>
<rect x="457" y="680" width="1" height="30" fill="#c0c0c0"/>
<rect x="465" y="678" width="1" height="32" fill="#c0c0c0"/>
<rect x="473" y="675" width="1" height="35" fill="#c0c0c0"/>
<rect x="481" y="675" width="1" height="35" fill="#c0c0c0"/>
<rect x="489" y="674" width="1" height="36" fill="#c0c0c0"/>
<rect x="497" y="675" width="1" height="35" fill="#c0c0c0"/>
<rect x="505" y="674" width="1" height="36" fill="#c0c0c0"/>
<rect x="513" y="672" width="1" height="38" fill="#c0c0c0"/>
<rect x="521" y="669" width="1" height="41" fill="#c0c0c0"/>
<rect x="529" y="667" width="1" height="43" fill="#c0c0c0"/>
<rect x="537" y="666" width="1" height="44" fill="#c0c0c0"/>
<rect x="545" y="666" width="1" height="44" fill="#c0c0c0"/>
<rect x="553" y="664" width="1" height="46" fill="#c0c0c0"/>
<rect x="561" y="661" width="1" height="49" fill="#c0c0c0"/>
<rect x="569" y="660" width="1" height="50" fill="#c0c0c0"/>
<rect x="577" y="659" width="1" height="51" fill="#c0c0c0"/>
<rect x="585" y="664" width="1" height="46" fill="#c0c0c0"/>
<rect x="593" y="667" width="1" height="43" fill="#c0c0c0"/>
<rect x="601" y="668" width="1" height="42" fill="#c0c0c0"/>
<rect x="609" y="669" width="1" height="41" fill="#c0c0c0"/>
<rect x="617" y="670" width="1" height="40" fill="#c0c0c0"/>
<rect x="625" y="672" width="1" height="38" fill="#c0c0c0"/>
<rect x="633" y="672" width="1" height="38" fill="#c0c0c0"/>
<rect x="641" y="669" width="1" height="41" fill="#c0c0c0"/>
<rect x="649" y="665" width="1" height="45" fill="#c0c0c0"/>
<rect x="657" y="664" width="1" height="46" fill="#c0c0c0"/>
<rect x="665" y="665" width="1" height="45" fill="#c0c0c0"/>
<rect x="673" y="663" width="1" height="47" fill="#c0c0c0"/>
<rect x="681" y="660" width="1" height="50" fill="#c0c0c0"/>
<rect x="689" y="659" width="1" height="51" fill="#c0c0c0"/>
<rect x="697" y="658" width="1" height="52" fill="#c0c0c0"/>
<rect x="705" y="659" width="1" height="51" fill="#c0c0c0"/>
<rect x="713" y="663" width="1" height="47" fill="#c0c0c0"/>
<rect x="721" y="665" width="1" height="45" fill="#c0c0c0"/>
<rect x="729" y="667" width="1" height="43" fill="#c0c0c0"/>
<rect x="737" y="667" width="1" height="43" fill="#c0c0c0"/>
<rect x="745" y="671" width="1" height="39" fill="#c0c0c0"/>
<rect x="753" y="674" width="1" height="36" fill="#c0c0c0"/>
<rect x="761" y="679" width="1" height="31" fill="#c0c0c0"/>
<rect x="769" y="681" width="1" height="29" fill="#c0c0c0"/>
<rect x="777" y="682" width="1" height="28" fill="#c0c0c0"/>
<rect x="785" y="681" width="1" height="29" fill="#c0c0c0"/>
<rect x="793" y="684" width="1" height="26" fill="#c0c0c0"/>
<rect x="801" y="686" width="1" height="24" fill="#c0c0c0"/>
<rect x="809" y="689" width="1" height="21" fill="#c0c0c0"/>
<rect x="817" y="689" width="1" height="21" fill="#c0c0c0"/>
<rect x="825" y="692" width="1" height="18" fill="#c0c0c0"/>
<rect x="833" y="696" width="1" height="14" fill="#c0c0c0"/>
<rect x="841" y="699" width="1" height="11" fill="#c0c0c0"/>
<rect x="849" y="704" width="1" height="6" fill="#c0c0c0"/>
<rect x="857" y="708" width="1" height="2" fill="#c0c0c0"/>
<rect x="865" y="710" width="1" height="2" fill="#c0c0c0"/>
<rect x="873" y="710" width="1" height="4" fill="#c0c0c0"/>
<rect x="881" y="710" width="1" height="7" fill="#c0c0c0"/>
<rect x="889" y="710" width="1" height="7" fill="#c0c0c0"/>
<rect x="897" y="710" width="1" height="4" fill="#c0c0c0"/>
<rect x="905" y="710" width="1" height="1" fill="#c0c0c0"/>
<rect x="913" y="710" width="1" height="1" fill="#c0c0c0"/>
<rect x="921" y="707" width="1" height="3" fill="#c0c0c0"/>
<rect x="929" y="703" width="1" height="7" fill="#c0c0c0"/>
<rect x="937" y="700" width="1" height="10" fill="#c0c0c0"/>
<rect x="945" y="698" width="1" height="12" fill="#c0c0c0"/>
<rect x="953" y="696" width="1" height="14" fill="#c0c0c0"/>
<rect x="961" y="694" width="1" height="16" fill="#c0c0c0"/>
<rect x="969" y="694" width="1" height="16" fill="#c0c0c0"/>
<rect x="977" y="696" width="1" height="14" fill="#c0c0c0"/>
<rect x="985" y="690" width="1" height="20" fill="#c0c0c0"/>
<rect x="993" y="686" width="1" height="24" fill="#c0c0c0"/>
<rect x="1001" y="681" width="1" height="29" fill="#c0c0c0"/>
<rect x="1009" y="677" width="1" height="33" fill="#c0c0c0"/>
<rect x="1017" y="674" width="1" height="36" fill="#c0c0c0"/>
<rect x="1025" y="669" width="1" height="41" fill="#c0c0c0"/>
<rect x="1033" y="678" width="1" height="32" fill="#c0c0c0"/>
<rect x="1041" y="686" width="1" height="24" fill="#c0c0c0"/>
<rect x="1049" y="690" width="1" height="20" fill="#c0c0c0"/>
<rect x="1057" y="691" width="1" height="19" fill="#c0c0c0"/>
<rect x="1065" y="693" width="1" height="17" fill="#c0c0c0"/>
<rect x="1073" y="695" width="1" height="15" fill="#c0c0c0"/>
<rect x="1081" y="703" width="1" height="7" fill="#c0c0c0"/>
<rect x="1089" y="709" width="1" height="1" fill="#c0c0c0"/>
<rect x="1097" y="710" width="1" height="2" fill="#c0c0c0"/>
<rect x="1105" y="710" width="1" height="6" fill="#c0c0c0"/>
<rect x="1113" y="710" width="1" height="7" fill="#c0c0c0"/>
<rect x="1121" y="710" width="1" height="4" fill="#c0c0c0"/>
<rect x="1129" y="710" width="1" height="3" fill="#c0c0c0"/>
<rect x="1137" y="710" width="1" height="2" fill="#c0c0c0"/>
<rect x="1145" y="710" width="1" height="3" fill="#c0c0c0"/>
<rect x="1153" y="710" width="1" height="2" fill="#c0c0c0"/>
<rect x="1161" y="710" width="1" height="1" fill="#c0c0c0"/>
<rect x="1169" y="710" width="1" height="1" fill="#c0c0c0"/>
<rect x="1177" y="710" width="1" height="1" fill="#c0c0c0"/>
<rect x="1185" y="710" width="1" height="1" fill="#c0c0c0"/>
<rect x="1193" y="710" width="1" height="1" fill="#c0c0c0"/>
<rect x="1201" y="710" width="1" height="3" fill="#c0c0c0"/>
<rect x="1209" y="710" width="1" height="9" fill="#c0c0c0"/>
<rect x="1217" y="710" width="1" height="16" fill="#c0c0c0"/>
<rect x="1225" y="710" width="1" height="19" fill="#c0c0c0"/>
<rect x="1233" y="710" width="1" height="20" fill="#c0c0c0"/>
<rect x="1241" y="710" width="1" height="21" fill="#c0c0c0"/>
</g>
<g shape-rendering="crispEdges">
<defs><pattern id="dotp" x="0" y="0" width="6" height="800" patternUnits="userSpaceOnUse"><rect x="1" y="0" width="3" height="800" fill="#fff"/></pattern><mask id="dotm" maskUnits="userSpaceOnUse" x="0" y="640" width="1622" height="120"><rect x="0" y="640" width="1622" height="120" fill="url(#dotp)"/></mask></defs>
<polyline points="0.0,710.4 7.4,714.6 16.0,721.5 24.7,726.9 34.5,731.4 44.4,734.6 54.3,735.6 66.6,733.8 78.9,730.1 91.2,726.4 103.6,723.5 115.9,720.8 128.2,718.3 138.1,717.3 148.0,717.8 157.8,719.5 170.2,720.8 182.5,723.2 197.3,724.7 212.1,724.5 226.9,724.5 239.2,725.7 254.0,726.4 266.3,725.2 278.7,723.2 291.0,719.0 303.3,712.9 315.7,705.5 328.0,698.1 340.3,691.9 352.7,687.0 365.0,684.5 377.3,682.8 389.6,682.6 400.0,682.1 403.7,681.6 424.7,681.3 432.0,680.3 449.3,679.6 461.7,679.1 471.5,677.1 486.3,676.6 501.1,675.4 518.4,674.2 533.2,671.7 548.0,669.7 555.4,667.8 572.6,664.8 587.4,663.6 621.9,663.6 636.7,666.5 646.6,667.3 671.3,667.3 686.1,665.3 698.4,663.6 703.3,661.6 745.2,661.6 755.1,664.8 769.9,669.0 777.3,671.5 789.6,674.7 800.0,676.8 811.1,680.5 822.2,682.7 836.1,686.6 849.9,691.1 863.8,695.8 877.7,701.3 888.8,705.5 897.1,709.1 911.0,711.6 927.6,711.9 938.7,709.7 952.6,706.0 966.5,701.3 980.4,697.7 994.2,693.8 1008.1,689.4 1022.0,684.7 1035.8,681.9 1049.7,680.0 1063.6,680.5 1077.5,683.3 1088.6,688.8 1099.7,698.6 1110.8,702.7 1121.9,706.0 1133.0,708.8 1144.1,712.4 1155.2,714.6 1169.0,715.2 1182.9,713.8 1196.8,713.3 1207.9,714.4 1219.0,716.6 1232.9,718.8 1241.2,720.8" fill="none" stroke="#ff0000" stroke-width="1" mask="url(#dotm)"/>
<rect x="1578" y="653" width="1" height="1" fill="#000"/>
<rect x="1578" y="710" width="1" height="1" fill="#000"/>
<rect x="1578" y="746" width="1" height="1" fill="#000"/>
</g>
<text x="5.8" y="663.6" font-size="9.5" fill="#000" stroke="#000" stroke-width="0.2" textLength="153" lengthAdjust="spacingAndGlyphs">MACD(12,26,9) -0.003441 -0.001744</text>
<text x="1581.3" y="662" font-size="9.6" fill="#000" stroke="#000" stroke-width="0.2" textLength="32.3" lengthAdjust="spacingAndGlyphs">0.00884</text>
<text x="1581.3" y="714" font-size="9.6" fill="#000" stroke="#000" stroke-width="0.2" textLength="16.7" lengthAdjust="spacingAndGlyphs">0.00</text>
<text x="1581.3" y="744.6" font-size="9.6" fill="#000" stroke="#000" stroke-width="0.2" textLength="39.9" lengthAdjust="spacingAndGlyphs">-0.005651</text>
<g shape-rendering="crispEdges">
<rect x="1" y="748" width="1" height="3" fill="#000"/>
<rect x="65" y="748" width="1" height="3" fill="#000"/>
<rect x="129" y="748" width="1" height="3" fill="#000"/>
<rect x="193" y="748" width="1" height="3" fill="#000"/>
<rect x="257" y="748" width="1" height="3" fill="#000"/>
<rect x="321" y="748" width="1" height="3" fill="#000"/>
<rect x="385" y="748" width="1" height="3" fill="#000"/>
<rect x="449" y="748" width="1" height="3" fill="#000"/>
<rect x="513" y="748" width="1" height="3" fill="#000"/>
<rect x="577" y="748" width="1" height="3" fill="#000"/>
<rect x="641" y="748" width="1" height="3" fill="#000"/>
<rect x="705" y="748" width="1" height="3" fill="#000"/>
<rect x="769" y="748" width="1" height="3" fill="#000"/>
<rect x="833" y="748" width="1" height="3" fill="#000"/>
<rect x="897" y="748" width="1" height="3" fill="#000"/>
<rect x="961" y="748" width="1" height="3" fill="#000"/>
<rect x="1025" y="748" width="1" height="3" fill="#000"/>
<rect x="1089" y="748" width="1" height="3" fill="#000"/>
<rect x="1153" y="748" width="1" height="3" fill="#000"/>
<rect x="1217" y="748" width="1" height="3" fill="#000"/>
</g>
<text x="0.30000000000000004" y="760" font-size="9.6" fill="#000" stroke="#000" stroke-width="0.2" textLength="52.7" lengthAdjust="spacingAndGlyphs">26 Sep 2020</text>
<text x="64.3" y="760" font-size="9.6" fill="#000" stroke="#000" stroke-width="0.2" textLength="45.5" lengthAdjust="spacingAndGlyphs">6 Oct 2020</text>
<text x="128.3" y="760" font-size="9.6" fill="#000" stroke="#000" stroke-width="0.2" textLength="50.7" lengthAdjust="spacingAndGlyphs">15 Oct 2020</text>
<text x="192.3" y="760" font-size="9.6" fill="#000" stroke="#000" stroke-width="0.2" textLength="50.7" lengthAdjust="spacingAndGlyphs">24 Oct 2020</text>
<text x="256.3" y="760" font-size="9.6" fill="#000" stroke="#000" stroke-width="0.2" textLength="47.6" lengthAdjust="spacingAndGlyphs">3 Nov 2020</text>
<text x="320.3" y="760" font-size="9.6" fill="#000" stroke="#000" stroke-width="0.2" textLength="52.7" lengthAdjust="spacingAndGlyphs">12 Nov 2020</text>
<text x="384.3" y="760" font-size="9.6" fill="#000" stroke="#000" stroke-width="0.2" textLength="52.7" lengthAdjust="spacingAndGlyphs">21 Nov 2020</text>
<text x="448.3" y="760" font-size="9.6" fill="#000" stroke="#000" stroke-width="0.2" textLength="47.6" lengthAdjust="spacingAndGlyphs">1 Dec 2020</text>
<text x="512.3" y="760" font-size="9.6" fill="#000" stroke="#000" stroke-width="0.2" textLength="52.7" lengthAdjust="spacingAndGlyphs">10 Dec 2020</text>
<text x="576.3" y="760" font-size="9.6" fill="#000" stroke="#000" stroke-width="0.2" textLength="52.7" lengthAdjust="spacingAndGlyphs">19 Dec 2020</text>
<text x="640.3" y="760" font-size="9.6" fill="#000" stroke="#000" stroke-width="0.2" textLength="52.7" lengthAdjust="spacingAndGlyphs">30 Dec 2020</text>
<text x="704.3" y="760" font-size="9.6" fill="#000" stroke="#000" stroke-width="0.2" textLength="46.0" lengthAdjust="spacingAndGlyphs">9 Jan 2021</text>
<text x="768.3" y="760" font-size="9.6" fill="#000" stroke="#000" stroke-width="0.2" textLength="51.2" lengthAdjust="spacingAndGlyphs">19 Jan 2021</text>
<text x="832.3" y="760" font-size="9.6" fill="#000" stroke="#000" stroke-width="0.2" textLength="51.2" lengthAdjust="spacingAndGlyphs">28 Jan 2021</text>
<text x="896.3" y="760" font-size="9.6" fill="#000" stroke="#000" stroke-width="0.2" textLength="47.1" lengthAdjust="spacingAndGlyphs">6 Feb 2021</text>
<text x="960.3" y="760" font-size="9.6" fill="#000" stroke="#000" stroke-width="0.2" textLength="52.2" lengthAdjust="spacingAndGlyphs">16 Feb 2021</text>
<text x="1024.3" y="760" font-size="9.6" fill="#000" stroke="#000" stroke-width="0.2" textLength="52.2" lengthAdjust="spacingAndGlyphs">25 Feb 2021</text>
<text x="1088.3" y="760" font-size="9.6" fill="#000" stroke="#000" stroke-width="0.2" textLength="47.0" lengthAdjust="spacingAndGlyphs">6 Mar 2021</text>
<text x="1152.3" y="760" font-size="9.6" fill="#000" stroke="#000" stroke-width="0.2" textLength="52.2" lengthAdjust="spacingAndGlyphs">16 Mar 2021</text>
<text x="1216.3" y="760" font-size="9.6" fill="#000" stroke="#000" stroke-width="0.2" textLength="52.2" lengthAdjust="spacingAndGlyphs">25 Mar 2021</text>
<rect x="0" y="768" width="1622" height="1" fill="#e6e6e6"/>
<rect x="0" y="769" width="1622" height="1" fill="#fafafa"/>
<rect x="0" y="770" width="1622" height="1" fill="#000"/>
<rect x="0" y="771" width="1622" height="19" fill="#f0f0f0"/>
<rect x="0" y="790" width="1622" height="1" fill="#fcfcfc"/>
<rect x="0" y="791" width="1622" height="1" fill="#f0f0f0"/>
<rect x="206" y="770" width="104" height="19" fill="#000"/>
<rect x="207" y="769" width="102" height="19" fill="#ffffff"/>
<text x="13.3" y="785" font-size="12" fill="#6d6d6d" stroke="#6d6d6d" stroke-width="0.05" textLength="80.9" lengthAdjust="spacingAndGlyphs">EURUSD,Daily</text>
<text x="115.6" y="785" font-size="12" fill="#6d6d6d" stroke="#6d6d6d" stroke-width="0.05" textLength="79.6" lengthAdjust="spacingAndGlyphs">USDCHF,Daily</text>
<text x="216.6" y="785" font-size="12" fill="#000000" stroke="#000000" stroke-width="0.15" textLength="82.9" lengthAdjust="spacingAndGlyphs">AUDUSD,Daily</text>
<text x="320.1" y="785" font-size="12" fill="#6d6d6d" stroke="#6d6d6d" stroke-width="0.05" textLength="82.3" lengthAdjust="spacingAndGlyphs">USDCAD,Daily</text>
<text x="423.4" y="785" font-size="12" fill="#6d6d6d" stroke="#6d6d6d" stroke-width="0.05" textLength="84.2" lengthAdjust="spacingAndGlyphs">USDCNH,Daily</text>
<text x="529.5" y="785" font-size="12" fill="#6d6d6d" stroke="#6d6d6d" stroke-width="0.05" textLength="81.2" lengthAdjust="spacingAndGlyphs">EURUSD,Daily</text>
<text x="633.1" y="785" font-size="12" fill="#6d6d6d" stroke="#6d6d6d" stroke-width="0.05" textLength="81.2" lengthAdjust="spacingAndGlyphs">GBPUSD,Daily</text>
<text x="736.6" y="785" font-size="12" fill="#6d6d6d" stroke="#6d6d6d" stroke-width="0.05" textLength="81.7" lengthAdjust="spacingAndGlyphs">XAUUSD,Daily</text>
<text x="841.5" y="785" font-size="12" fill="#6d6d6d" stroke="#6d6d6d" stroke-width="0.05" textLength="60.5" lengthAdjust="spacingAndGlyphs">HK50,M15</text>
<text x="924.4" y="785" font-size="12" fill="#6d6d6d" stroke="#6d6d6d" stroke-width="0.05" textLength="57.8" lengthAdjust="spacingAndGlyphs">UK100,H1</text>
<text x="1004.6" y="785" font-size="12" fill="#6d6d6d" stroke="#6d6d6d" stroke-width="0.05" textLength="57.6" lengthAdjust="spacingAndGlyphs">UK100,H1</text>
<text x="1084.3" y="785" font-size="12" fill="#6d6d6d" stroke="#6d6d6d" stroke-width="0.05" textLength="57.8" lengthAdjust="spacingAndGlyphs">GER30,H1</text>
<text x="1163.3" y="785" font-size="12" fill="#6d6d6d" stroke="#6d6d6d" stroke-width="0.05" textLength="55.7" lengthAdjust="spacingAndGlyphs">FRA40,H1</text>
<text x="1239.6" y="785" font-size="12" fill="#6d6d6d" stroke="#6d6d6d" stroke-width="0.05" textLength="51.2" lengthAdjust="spacingAndGlyphs">USOil,H1</text>
<text x="1311.4" y="785" font-size="12" fill="#6d6d6d" stroke="#6d6d6d" stroke-width="0.05" textLength="63.8" lengthAdjust="spacingAndGlyphs">USDJPY,H1</text>
<text x="1396.7" y="785" font-size="12" fill="#6d6d6d" stroke="#6d6d6d" stroke-width="0.05" textLength="73.4" lengthAdjust="spacingAndGlyphs">DJ30,Weekly</text>
<text x="1491.8" y="785" font-size="12" fill="#6d6d6d" stroke="#6d6d6d" stroke-width="0.05" textLength="79.0" lengthAdjust="spacingAndGlyphs">CHINA300,H1</text>
<rect x="106" y="773" width="1" height="14" fill="#444444"/>
<rect x="413" y="773" width="1" height="14" fill="#444444"/>
<rect x="518" y="773" width="1" height="14" fill="#444444"/>
<rect x="622" y="773" width="1" height="14" fill="#444444"/>
<rect x="726" y="773" width="1" height="14" fill="#444444"/>
<rect x="830" y="773" width="1" height="14" fill="#444444"/>
<rect x="914" y="773" width="1" height="14" fill="#444444"/>
<rect x="994" y="773" width="1" height="14" fill="#444444"/>
<rect x="1074" y="773" width="1" height="14" fill="#444444"/>
<rect x="1154" y="773" width="1" height="14" fill="#444444"/>
<rect x="1230" y="773" width="1" height="14" fill="#444444"/>
<rect x="1302" y="773" width="1" height="14" fill="#444444"/>
<rect x="1386" y="773" width="1" height="14" fill="#444444"/>
<rect x="1482" y="773" width="1" height="14" fill="#444444"/>
<rect x="1582" y="773" width="1" height="14" fill="#444444"/>
<rect x="1595" y="776" width="1" height="6" fill="#a0a0a0"/>
<rect x="1594" y="777" width="1" height="4" fill="#a0a0a0"/>
<rect x="1593" y="778" width="1" height="2" fill="#a0a0a0"/>
<rect x="1612" y="776" width="1" height="6" fill="#000"/>
<rect x="1613" y="777" width="1" height="4" fill="#000"/>
<rect x="1614" y="778" width="1" height="2" fill="#000"/>
</svg>
</body></html>
